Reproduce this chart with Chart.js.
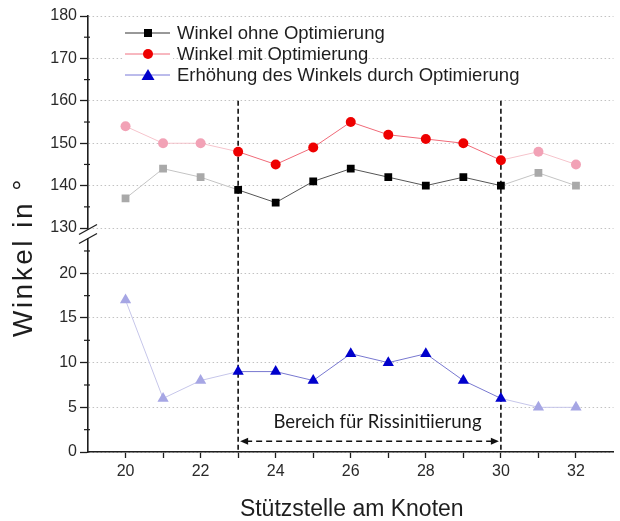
<!DOCTYPE html>
<html>
<head>
<meta charset="utf-8">
<script src="https://cdn.jsdelivr.net/npm/chart.js@4.4.1/dist/chart.umd.min.js"></script>
<style>
  html, body { margin: 0; padding: 0; background: #fff; }
  #wrap { width: 620px; height: 521px; }
</style>
</head>
<body>
<div id="wrap"><canvas id="c" width="620" height="521"></canvas></div>
<script>
// Stützstellen entlang des Knotens
const stuetzstellen = [20, 21, 22, 23, 24, 25, 26, 27, 28, 29, 30, 31, 32];
// Winkel in Grad
const winkelOhne = [137, 144, 142, 139, 136, 141, 144, 142, 140, 142, 140, 143, 140];
const winkelMit  = [154, 150, 150, 148, 145, 149, 155, 152, 151, 150, 146, 148, 145];
const erhoehung  = [17, 6, 8, 9, 9, 8, 11, 10, 11, 8, 6, 5, 5];

const seriesLabels = [
  'Winkel ohne Optimierung',
  'Winkel mit Optimierung',
  'Erhöhung des Winkels durch Optimierung'
];

// Achsen
const xTicks = [20, 21, 22, 23, 24, 25, 26, 27, 28, 29, 30, 31, 32];
const upperTicks = [130, 135, 140, 145, 150, 155, 160, 165, 170, 175, 180];
const lowerTicks = [0, 2.5, 5, 7.5, 10, 12.5, 15, 17.5, 20, 22.5];
const xTitle = 'Stützstelle am Knoten';
const yTitle = 'Winkel in °';

// Bereich für Rissinitiierung
const bereich = [23, 30];
const bereichLabel = 'Bereich für Rissinitiierung';
const bereichTop = 160;
const pfeilHoehe = 1.2;

const FONT = '"Liberation Sans", Arial, sans-serif';

const inBereich = x => x >= bereich[0] && x <= bereich[1];
const pts = ys => stuetzstellen.map((x, i) => ({ x, y: ys[i] }));

function styled(strong, faint, lineStrong, lineFaint) {
  return {
    pointBackgroundColor: stuetzstellen.map(x => inBereich(x) ? strong : faint),
    pointBorderColor: stuetzstellen.map(x => inBereich(x) ? strong : faint),
    borderColor: lineStrong,
    segment: {
      borderColor: ctx => (inBereich(ctx.p0.parsed.x) && inBereich(ctx.p1.parsed.x)) ? lineStrong : lineFaint
    }
  };
}

const datasets = [
  Object.assign({
    label: seriesLabels[0], data: pts(winkelOhne), yAxisID: 'yTop',
    pointStyle: 'rect', pointRadius: 5.5, borderWidth: 1, pointBorderWidth: 0,
    legendMarker: '#000000', legendLine: '#333333'
  }, styled('#000000', '#a9a9a9', '#555555', '#c4c4c4')),
  Object.assign({
    label: seriesLabels[1], data: pts(winkelMit), yAxisID: 'yTop',
    pointStyle: 'circle', pointRadius: 5, borderWidth: 1, pointBorderWidth: 0,
    legendMarker: '#ee0000', legendLine: '#f07080'
  }, styled('#ee0000', '#f2a2b6', '#f06a78', '#f6c4cc')),
  Object.assign({
    label: seriesLabels[2], data: pts(erhoehung), yAxisID: 'yBot',
    pointStyle: 'triangle', pointRadius: 6.5, borderWidth: 1, pointBorderWidth: 0,
    legendMarker: '#0000cc', legendLine: '#7878d8'
  }, styled('#0000cc', '#a6a6e4', '#7878d0', '#c6c6ea'))
];

const gridColor = '#c2c2c2';
const axisColor = '#1e1e1e';

function yScale(ticks, min, max, labelStep) {
  return {
    type: 'linear', position: 'left', stack: 'links', stackWeight: 1,
    min, max,
    afterBuildTicks: s => { s.ticks = ticks.map(v => ({ value: v })); },
    afterFit: s => { s.width = 88; },
    ticks: {
      color: '#2a2a2a', font: { family: FONT, size: 16 }, padding: 3,
      callback: v => (v % labelStep === 0 ? String(v) : '')
    },
    grid: {
      color: gridColor, lineWidth: 1, drawTicks: true, tickLength: 8,
      tickColor: c => (c.tick && c.tick.value % labelStep === 0 ? axisColor : 'rgba(0,0,0,0)'),
      tickWidth: 1.3
    },
    border: { display: true, color: axisColor, width: 1.6, dash: [1.5, 2.5] }
  };
}

// Kleine Teilstriche, Achsenbruch, Bereichsmarkierung, Legende, Achsentitel
const extras = {
  id: 'extras',
  beforeDatasetsDraw(chart) {
    const { ctx } = chart;
    const xs = chart.scales.x, yt = chart.scales.yTop, yb = chart.scales.yBot;
    const yBottom = yb.getPixelForValue(0);
    ctx.save();
    ctx.strokeStyle = '#111';
    ctx.lineWidth = 1.6;
    ctx.setLineDash([5, 3]);
    bereich.forEach(v => {
      const px = xs.getPixelForValue(v);
      ctx.beginPath();
      ctx.moveTo(px, yt.getPixelForValue(bereichTop));
      ctx.lineTo(px, yBottom);
      ctx.stroke();
    });
    // Pfeil
    const ay = yb.getPixelForValue(pfeilHoehe);
    const x0 = xs.getPixelForValue(bereich[0]) + 2, x1 = xs.getPixelForValue(bereich[1]) - 2;
    ctx.lineWidth = 1.5;
    ctx.setLineDash([6, 4]);
    ctx.beginPath(); ctx.moveTo(x0 + 6, ay); ctx.lineTo(x1 - 6, ay); ctx.stroke();
    ctx.setLineDash([]);
    ctx.fillStyle = '#111';
    ctx.beginPath(); ctx.moveTo(x0, ay); ctx.lineTo(x0 + 8, ay - 3.5); ctx.lineTo(x0 + 8, ay + 3.5); ctx.closePath(); ctx.fill();
    ctx.beginPath(); ctx.moveTo(x1, ay); ctx.lineTo(x1 - 8, ay - 3.5); ctx.lineTo(x1 - 8, ay + 3.5); ctx.closePath(); ctx.fill();
    ctx.font = '18.5px Lato, "Open Sans", sans-serif';
    ctx.fillStyle = '#1a1a1a';
    ctx.textAlign = 'center';
    ctx.textBaseline = 'alphabetic';
    ctx.fillText(bereichLabel, (x0 + x1) / 2 + 8, ay - 13);
    ctx.restore();
  },
  afterDraw(chart) {
    const { ctx } = chart;
    const xs = chart.scales.x, yt = chart.scales.yTop, yb = chart.scales.yBot;
    const ax = xs.left;
    ctx.save();
    // kleine Teilstriche der y-Achsen
    ctx.strokeStyle = axisColor;
    ctx.lineWidth = 1.2;
    [[yt, upperTicks, 10], [yb, lowerTicks, 5]].forEach(([s, ticks, step]) => {
      ticks.filter(v => v % step !== 0).forEach(v => {
        const py = s.getPixelForValue(v);
        ctx.beginPath(); ctx.moveTo(ax - 4, py); ctx.lineTo(ax + 2, py); ctx.stroke();
      });
    });
    // Achsenbruch
    const c = yt.bottom;
    ctx.fillStyle = '#fff';
    ctx.fillRect(ax - 3, c - 4, 6, 8);
    ctx.strokeStyle = '#222';
    ctx.lineWidth = 1.4;
    [-4.5, 4.5].forEach(off => {
      ctx.beginPath();
      ctx.moveTo(ax - 9, c + off + 5);
      ctx.lineTo(ax + 9, c + off - 5);
      ctx.stroke();
    });
    // Legende
    const lx = 125, rows = [33, 54, 75];
    chart.data.datasets.forEach((ds, i) => {
      const y = rows[i];
      ctx.fillStyle = '#fff';
      ctx.fillRect(lx - 2, y - 8, 50, 16);
      ctx.strokeStyle = ds.legendLine;
      ctx.lineWidth = 1;
      ctx.beginPath(); ctx.moveTo(lx, y); ctx.lineTo(lx + 45, y); ctx.stroke();
      ctx.fillStyle = ds.legendMarker;
      const mx = lx + 23;
      if (ds.pointStyle === 'rect') {
        ctx.fillRect(mx - 4, y - 4, 8, 8);
      } else if (ds.pointStyle === 'circle') {
        ctx.beginPath(); ctx.arc(mx, y, 5, 0, Math.PI * 2); ctx.fill();
      } else {
        ctx.beginPath(); ctx.moveTo(mx, y - 6); ctx.lineTo(mx + 6.5, y + 5); ctx.lineTo(mx - 6.5, y + 5); ctx.closePath(); ctx.fill();
      }
      ctx.fillStyle = '#1e1e1e';
      ctx.font = '18.5px ' + FONT;
      ctx.textAlign = 'left';
      ctx.textBaseline = 'middle';
      ctx.fillText(ds.label, lx + 52, y + 1);
    });
    // Achsentitel
    ctx.fillStyle = '#1e1e1e';
    ctx.font = '23px ' + FONT;
    ctx.textAlign = 'center';
    ctx.textBaseline = 'alphabetic';
    ctx.fillText(xTitle, (xs.left + xs.right) / 2 + 1, 516);
    ctx.translate(32, 257);
    ctx.rotate(-Math.PI / 2);
    ctx.font = '28px ' + FONT;
    ctx.letterSpacing = '2.5px';
    ctx.fillText(yTitle, 0, 0);
    ctx.restore();
  }
};

new Chart(document.getElementById('c'), {
  type: 'line',
  data: { datasets },
  options: {
    responsive: false,
    animation: false,
    devicePixelRatio: 1,
    layout: { padding: { top: 16, right: 0, left: 0, bottom: 0 } },
    plugins: { legend: { display: false }, tooltip: { enabled: false } },
    scales: {
      x: {
        type: 'linear', min: 19, max: 33,
        afterBuildTicks: s => { s.ticks = xTicks.map(v => ({ value: v })); },
        afterFit: s => { s.height = 69; },
        ticks: {
          color: '#2a2a2a', font: { family: FONT, size: 16 }, padding: 4,
          maxRotation: 0, autoSkip: false,
          callback: v => (v % 2 === 0 ? String(v) : '')
        },
        grid: {
          drawOnChartArea: false, drawTicks: true, tickLength: 6,
          tickColor: axisColor, tickWidth: 1.3
        },
        border: { display: true, color: axisColor, width: 1.6 }
      },
      // in einem Stapel wird die zuletzt definierte Achse oben platziert
      yBot: yScale(lowerTicks, 0, 24.4, 5),
      yTop: yScale(upperTicks, 128.6, 180, 10)
    }
  },
  plugins: [extras]
});
</script>
</body>
</html>
